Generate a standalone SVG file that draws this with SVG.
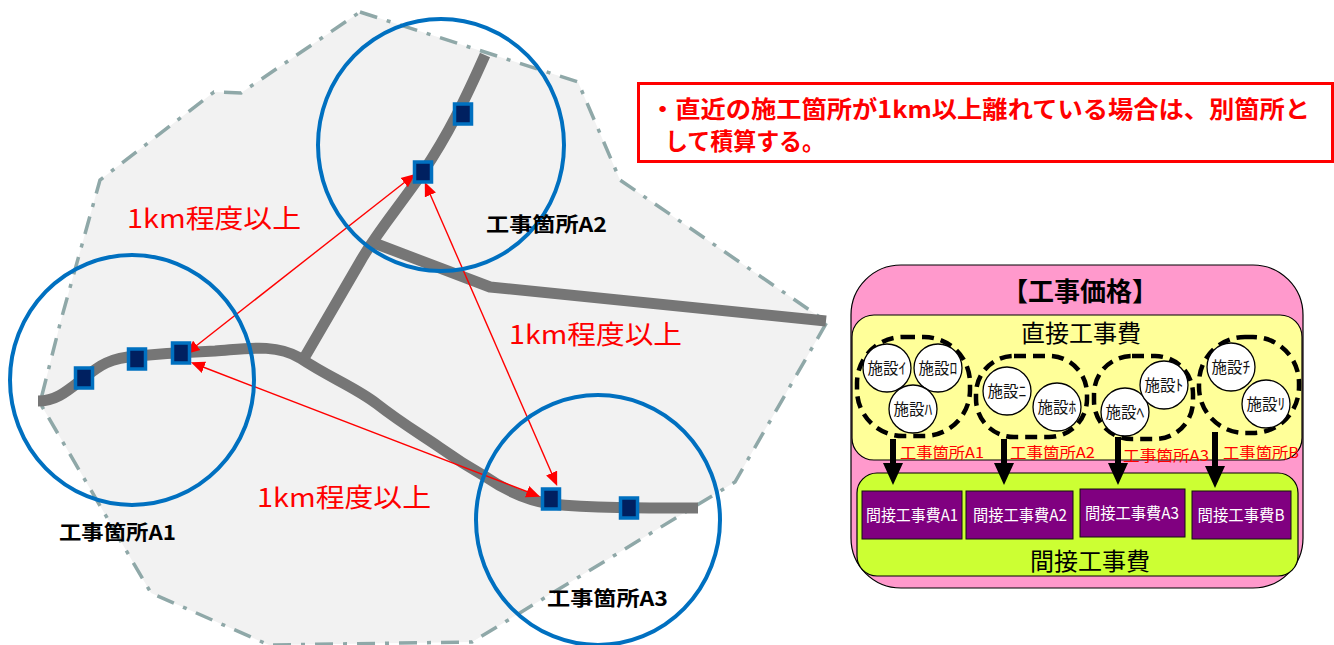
<svg xmlns="http://www.w3.org/2000/svg" width="1334" height="645" viewBox="0 0 1334 645">
<style>
text{font-family:"Noto Sans CJK JP","Liberation Sans",sans-serif}
.bound{fill:#f2f2f2;stroke:#8fa8a8;stroke-width:3.5;stroke-dasharray:18 10 4 10}
.site{fill:none;stroke:#0070c0;stroke-width:4}
.road{fill:none;stroke:#767676;stroke-width:11;stroke-linejoin:round}
.pt{fill:#002060;stroke:#0070c0;stroke-width:3.5}
.dist{stroke:#f00;stroke-width:1.4;marker-start:url(#rh);marker-end:url(#rh)}
.km{fill:#f00;font-size:26px}
.sl{font-size:20px;font-weight:700;fill:#000}
.outer{stroke:#000;stroke-width:1.2}
.loop{fill:none;stroke:#000;stroke-width:4.5;stroke-dasharray:12 7}
.fac{fill:#fff;stroke:#000;stroke-width:1.3}
.ft{font-size:15.500px;fill:#111;text-anchor:middle}
.ind{fill:#800080;stroke:#111;stroke-width:1}
.it{font-size:16px;fill:#fff;text-anchor:middle}
.rl{font-size:15px;fill:#f00}
.big{font-size:24px;fill:#000;text-anchor:middle}
.blk{stroke:#000;stroke-width:6;marker-end:url(#bh)}
</style>
<defs>
<marker id="rh" markerUnits="userSpaceOnUse" markerWidth="15" markerHeight="14" refX="1" refY="7" orient="auto-start-reverse"><path d="M0 1 L14 7 L0 13Z" fill="#f00"/></marker>
<marker id="bh" markerUnits="userSpaceOnUse" markerWidth="24" markerHeight="24" refX="0" refY="11" orient="auto"><path d="M0 1 L22 11 L0 21Z" fill="#000"/></marker>
</defs>
<g id="boundary"><polygon class="bound" points="360,12 578,82 620,180 827,322 735,482 472,642 269,645 151,593 40,403 61,320 100,180 214,92 241,93"/></g>
<g id="connectors">
<path class="road" d="M38 401C56 401 66 392 84 378C100 365 110 358 137 356C160 354 190 352 215 351C245 349 275 343 300 358C330 378 355 387 377 404C400 422 420 434 439 447C460 462 470 468 486 477C505 490 525 500 551 504C590 508 640 508 698 508"/>
<path class="road" d="M485 55C465 100 448 135 423 172C395 212 375 235 360 262L303 360"/>
<path class="road" d="M374 243L490 287L826 321"/>
<line class="dist" x1="196" y1="346" x2="405" y2="182"/>
<line class="dist" x1="430" y1="194" x2="552" y2="474"/>
<line class="dist" x1="203" y1="367" x2="528" y2="492"/>
</g>
<g id="site-a1"><ellipse class="site" cx="132" cy="380" rx="122" ry="125"/><text class="sl" x="59" y="540" textLength="117" lengthAdjust="spacingAndGlyphs">工事箇所A1</text></g>
<g id="site-a2"><ellipse class="site" cx="441" cy="145" rx="123" ry="126"/><text class="sl" x="486" y="232" textLength="121" lengthAdjust="spacingAndGlyphs">工事箇所A2</text></g>
<g id="site-a3"><ellipse class="site" cx="598" cy="520" rx="122" ry="125"/><text class="sl" x="547" y="606" textLength="121" lengthAdjust="spacingAndGlyphs">工事箇所A3</text></g>
<g id="points">
<rect class="pt" x="75.500" y="368" width="17" height="20"/>
<rect class="pt" x="128.500" y="349" width="17" height="20"/>
<rect class="pt" x="172.500" y="343" width="17" height="20"/>
<rect class="pt" x="414.500" y="162" width="17" height="20"/>
<rect class="pt" x="454.500" y="104" width="17" height="20"/>
<rect class="pt" x="542.500" y="489" width="17" height="20"/>
<rect class="pt" x="620.500" y="498" width="17" height="20"/>
</g>
<g id="labels">
<text class="km" x="127" y="228" textLength="174" lengthAdjust="spacingAndGlyphs">1km程度以上</text>
<text class="km" x="509" y="344" textLength="173" lengthAdjust="spacingAndGlyphs">1km程度以上</text>
<text class="km" x="257" y="507" textLength="174" lengthAdjust="spacingAndGlyphs">1km程度以上</text>
</g>
<g id="note">
<rect x="638.500" y="83.500" width="694" height="78" fill="#fff" stroke="#f00" stroke-width="3"/>
<text x="650" y="118" font-size="23.500" font-weight="700" fill="#f00" textLength="660" lengthAdjust="spacingAndGlyphs">・直近の施工箇所が1km以上離れている場合は、別箇所と</text>
<text x="665" y="150" font-size="23.500" font-weight="700" fill="#f00" textLength="160" lengthAdjust="spacingAndGlyphs">して積算する。</text>
</g>
<g id="price">
<rect class="outer" x="851" y="265" width="452" height="323" rx="50" fill="#ff99cc"/>
<text x="1080" y="301" font-size="26" font-weight="700" text-anchor="middle" fill="#000">【工事価格】</text>
</g>
<g id="direct">
<rect class="outer" x="852" y="315" width="450" height="145" rx="22" fill="#ffff99"/>
<text class="big" x="1081" y="342">直接工事費</text>
</g>
<g id="indirect">
<rect class="outer" x="857" y="473" width="441" height="103" rx="20" fill="#ccff33"/>
<text class="big" x="1090" y="570">間接工事費</text>
</g>
<g id="loops">
<rect class="loop" x="857" y="337" width="113" height="99" rx="46"/>
<rect class="loop" x="976" y="356" width="111" height="81" rx="38"/>
<rect class="loop" x="1094" y="356" width="99" height="83" rx="38"/>
<rect class="loop" x="1199" y="337" width="100" height="96" rx="46"/>
</g>
<g id="facility-i"><circle class="fac" cx="887" cy="368" r="24"/><text class="ft" x="887" y="374">施設ｲ</text></g>
<g id="facility-ro"><circle class="fac" cx="938" cy="368" r="24"/><text class="ft" x="938" y="374">施設ﾛ</text></g>
<g id="facility-ha"><circle class="fac" cx="913" cy="409" r="24"/><text class="ft" x="913" y="415">施設ﾊ</text></g>
<g id="facility-ni"><circle class="fac" cx="1007" cy="391" r="24"/><text class="ft" x="1007" y="397">施設ﾆ</text></g>
<g id="facility-ho"><circle class="fac" cx="1057" cy="407" r="24"/><text class="ft" x="1057" y="413">施設ﾎ</text></g>
<g id="facility-he"><circle class="fac" cx="1125" cy="412" r="24"/><text class="ft" x="1125" y="418">施設ﾍ</text></g>
<g id="facility-to"><circle class="fac" cx="1164" cy="385" r="24"/><text class="ft" x="1164" y="391">施設ﾄ</text></g>
<g id="facility-chi"><circle class="fac" cx="1231" cy="367" r="24"/><text class="ft" x="1231" y="373">施設ﾁ</text></g>
<g id="facility-ri"><circle class="fac" cx="1266" cy="404" r="24"/><text class="ft" x="1266" y="410">施設ﾘ</text></g>
<g id="cost-arrows">
<line class="blk" x1="893" y1="439" x2="893" y2="463"/>
<line class="blk" x1="1004" y1="439" x2="1004" y2="463"/>
<line class="blk" x1="1118" y1="437" x2="1118" y2="463"/>
<line class="blk" x1="1215" y1="432" x2="1215" y2="466"/>
</g>
<g id="cost-labels">
<text class="rl" x="900" y="458" textLength="84" lengthAdjust="spacingAndGlyphs">工事箇所A1</text>
<text class="rl" x="1010" y="458" textLength="85" lengthAdjust="spacingAndGlyphs">工事箇所A2</text>
<text class="rl" x="1123" y="461" textLength="86" lengthAdjust="spacingAndGlyphs">工事箇所A3</text>
<text class="rl" x="1223" y="458" textLength="76" lengthAdjust="spacingAndGlyphs">工事箇所B</text>
</g>
<g id="ind-a1"><rect class="ind" x="862" y="491" width="100" height="48"/><text class="it" x="912" y="521" textLength="92" lengthAdjust="spacingAndGlyphs">間接工事費A1</text></g>
<g id="ind-a2"><rect class="ind" x="966" y="491" width="107" height="48"/><text class="it" x="1020" y="521" textLength="94" lengthAdjust="spacingAndGlyphs">間接工事費A2</text></g>
<g id="ind-a3"><rect class="ind" x="1080" y="489" width="105" height="48"/><text class="it" x="1132" y="519" textLength="94" lengthAdjust="spacingAndGlyphs">間接工事費A3</text></g>
<g id="ind-b"><rect class="ind" x="1192" y="491" width="99" height="48"/><text class="it" x="1241" y="521" textLength="87" lengthAdjust="spacingAndGlyphs">間接工事費B</text></g>
</svg>
